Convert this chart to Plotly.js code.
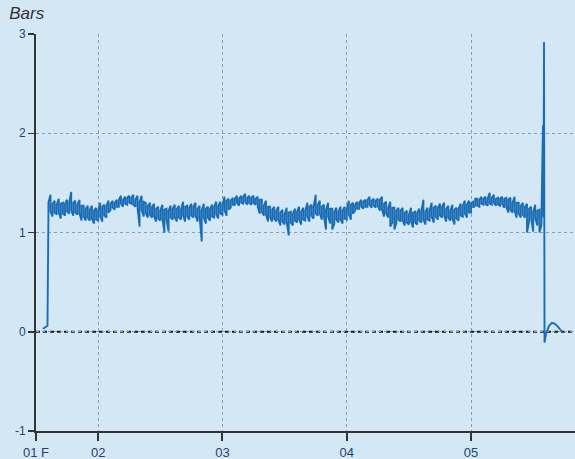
<!DOCTYPE html>
<html>
<head>
<meta charset="utf-8">
<script src="https://cdn.plot.ly/plotly-3.0.1.min.js"></script>
<style>html,body{margin:0;padding:0;background:#d4e7f5;}#chart{width:575px;height:459px;}</style>
</head>
<body>
<div id="chart"></div>
<script>
// Start-up transient (before pressure rise)
const startTimes = ["2024-02-01 13:20", "2024-02-01 14:02", "2024-02-01 14:13"];
const startValues = [0.03, 0.05, 0.06];

// Main record, as min/max per 24-minute bin starting at mainStart
const mainStart = "2024-02-01 14:24";
const binMinutes = 24;
const binHigh = [
  1.30,1.38,1.29,1.32,1.28,1.34,1.29,1.30,1.29,1.33,
  1.30,1.41,1.30,1.32,1.28,1.33,1.27,1.27,1.24,1.27,
  1.23,1.27,1.22,1.25,1.22,1.30,1.26,1.28,1.27,1.32,
  1.29,1.32,1.30,1.33,1.33,1.37,1.33,1.36,1.35,1.37,
  1.35,1.38,1.33,1.37,1.31,1.37,1.31,1.30,1.27,1.30,
  1.26,1.29,1.24,1.26,1.22,1.28,1.23,1.24,1.22,1.27,
  1.24,1.28,1.24,1.27,1.23,1.31,1.26,1.27,1.25,1.29,
  1.26,1.30,1.24,1.27,1.22,1.29,1.24,1.26,1.24,1.28,
  1.26,1.31,1.27,1.31,1.28,1.36,1.32,1.34,1.32,1.35,
  1.34,1.37,1.34,1.37,1.36,1.39,1.35,1.37,1.35,1.37,
  1.34,1.36,1.33,1.33,1.27,1.32,1.26,1.26,1.23,1.26,
  1.22,1.26,1.20,1.23,1.18,1.25,1.20,1.21,1.19,1.24,
  1.21,1.26,1.21,1.25,1.22,1.30,1.26,1.28,1.26,1.38,
  1.28,1.32,1.26,1.28,1.23,1.30,1.24,1.24,1.21,1.25,
  1.21,1.26,1.22,1.26,1.23,1.32,1.28,1.30,1.28,1.31,
  1.30,1.33,1.31,1.33,1.33,1.36,1.32,1.34,1.32,1.34,
  1.33,1.36,1.29,1.31,1.25,1.31,1.25,1.25,1.22,1.25,
  1.22,1.25,1.20,1.22,1.18,1.25,1.20,1.21,1.20,1.24,
  1.21,1.33,1.21,1.25,1.22,1.30,1.25,1.27,1.25,1.29,
  1.26,1.30,1.24,1.27,1.22,1.28,1.23,1.25,1.24,1.29,
  1.27,1.32,1.28,1.32,1.30,1.31,1.34,1.34,1.33,1.36,
  1.34,1.36,1.34,1.40,1.35,1.38,1.34,1.35,1.34,1.36,
  1.34,1.35,1.33,1.35,1.30,1.36,1.30,1.30,1.27,1.30,
  1.26,1.29,1.24,1.26,1.21,1.28,1.22,1.23,1.20
];
const binLow = [
  1.19,1.21,1.16,1.20,1.18,1.20,1.14,1.19,1.17,1.21,
  1.19,1.22,1.17,1.20,1.18,1.19,1.12,1.16,1.12,1.15,
  1.12,1.14,1.09,1.13,1.12,1.16,1.11,1.17,1.15,1.20,
  1.23,1.25,1.23,1.26,1.26,1.29,1.26,1.29,1.28,1.30,
  1.29,1.28,1.26,1.25,1.06,1.23,1.16,1.19,1.15,1.18,
  1.15,1.16,1.11,1.14,1.12,1.14,1.00,1.13,1.01,1.15,
  1.13,1.15,1.11,1.15,1.13,1.17,1.11,1.16,1.13,1.17,
  1.15,1.17,1.11,1.15,0.91,1.15,1.09,1.15,1.12,1.16,
  1.15,1.18,1.14,1.19,1.18,1.22,1.17,1.23,1.25,1.28,
  1.28,1.30,1.27,1.30,1.29,1.31,1.28,1.30,1.28,1.30,
  1.28,1.26,1.19,1.21,1.17,1.18,1.11,1.15,1.11,1.14,
  1.11,1.13,1.07,1.11,1.08,1.11,0.97,1.10,1.07,1.12,
  1.10,1.13,1.08,1.13,1.12,1.16,1.11,1.17,1.14,1.19,
  1.17,1.19,1.13,1.16,1.03,1.16,1.09,1.03,1.09,1.13,
  1.10,1.13,1.09,1.14,1.13,1.18,1.13,1.19,1.22,1.24,
  1.24,1.26,1.24,1.26,1.26,1.28,1.25,1.27,1.25,1.27,
  1.22,1.23,1.16,1.19,1.15,1.06,1.10,1.03,1.10,1.13,
  1.11,1.12,1.07,1.10,1.08,1.11,1.05,1.10,1.08,1.12,
  1.10,1.13,1.08,1.13,1.12,1.16,1.10,1.16,1.13,1.17,
  1.15,1.17,1.11,1.15,1.12,1.14,1.08,1.14,1.12,1.17,
  1.16,1.19,1.15,1.20,1.20,1.25,1.27,1.27,1.26,1.29,
  1.28,1.29,1.27,1.29,1.28,1.30,1.27,1.28,1.27,1.29,
  1.25,1.26,1.20,1.23,1.20,1.22,1.15,1.19,1.15,1.18,
  1.15,1.00,1.11,1.14,1.01,1.14,1.07,1.00,1.08
];

// Shut-down transient
const endTimes = ["2024-02-05 13:53", "2024-02-05 13:59", "2024-02-05 14:05", "2024-02-05 14:11",
                  "2024-02-05 14:28", "2024-02-05 15:03", "2024-02-05 15:38", "2024-02-05 16:12",
                  "2024-02-05 16:48", "2024-02-05 17:34"];
const endValues = [2.08, 1.15, 2.92, -0.11, -0.02, 0.06, 0.09, 0.08, 0.05, 0.00];

const xTickVals = ["2024-02-01 12:00", "2024-02-02", "2024-02-03", "2024-02-04", "2024-02-05"];
const xTickText = ["01 F", "02", "03", "04", "05"];
const yTickVals = [-1, 0, 1, 2, 3];
const yTickText = ["-1", "0", "1", "2", "3"];
const xRange = ["2024-02-01 12:00", "2024-02-05 20:04"];
const yRange = [-1, 3];

function fmt(ms) { return new Date(ms).toISOString().replace("T", " ").slice(0, 19); }
const t0 = Date.parse(mainStart.replace(" ", "T") + ":00Z");

// min/max envelope drawn as a continuous stroke
const mainX = [], mainY = [];
binHigh.forEach((hi, i) => {
  const t = fmt(t0 + i * binMinutes * 60000);
  const lo = binLow[i];
  if (i % 2 === 0) { mainX.push(t, t); mainY.push(lo, hi); }
  else { mainX.push(t, t); mainY.push(hi, lo); }
});

const x = startTimes.concat(mainX, endTimes);
const y = startValues.concat(mainY, endValues);

const trace = {
  x: x, y: y, type: "scatter", mode: "lines",
  line: {color: "#1a6db4", width: 1.9},
  hoverinfo: "skip"
};

const tickFont = {family: "Liberation Sans, Arial, sans-serif", size: 13, color: "#24446e"};
const grid = "#7f9fc0";

const layout = {
  width: 575, height: 459,
  margin: {l: 36, r: 0, t: 34, b: 28, pad: 0},
  paper_bgcolor: "#d4e7f5",
  plot_bgcolor: "#d4e7f5",
  showlegend: false,
  title: {
    text: "<i>Bars</i>", xref: "container", yref: "container",
    x: 0.016, xanchor: "left", y: 0.984, yanchor: "top",
    font: {family: "Liberation Sans, Arial, sans-serif", size: 17, color: "#333333"}
  },
  xaxis: {
    type: "date", range: xRange,
    tickmode: "array", tickvals: xTickVals, ticktext: xTickText,
    ticks: "outside", ticklen: 8, tickwidth: 2, tickcolor: "#333333",
    showline: true, linecolor: "#333333", linewidth: 2,
    showgrid: true, gridcolor: grid, gridwidth: 1, griddash: "3px,3px",
    zeroline: false, tickfont: tickFont, fixedrange: true
  },
  yaxis: {
    range: yRange,
    tickmode: "array", tickvals: yTickVals, ticktext: yTickText,
    ticks: "outside", ticklen: 6, tickwidth: 1.5, tickcolor: "#333333",
    showline: true, linecolor: "#333333", linewidth: 2,
    showgrid: true, gridcolor: grid, gridwidth: 1, griddash: "3px,3px",
    zeroline: false, tickfont: Object.assign({}, tickFont, {size: 12}), fixedrange: true
  },
  shapes: [{
    type: "line", xref: "paper", yref: "y", x0: 0, x1: 1, y0: 0, y1: 0,
    line: {color: "#1a1a1a", width: 1.8, dash: "4px,3px"}, layer: "below"
  }]
};

Plotly.newPlot("chart", [trace], layout, {displayModeBar: false, staticPlot: true});
</script>
</body>
</html>
